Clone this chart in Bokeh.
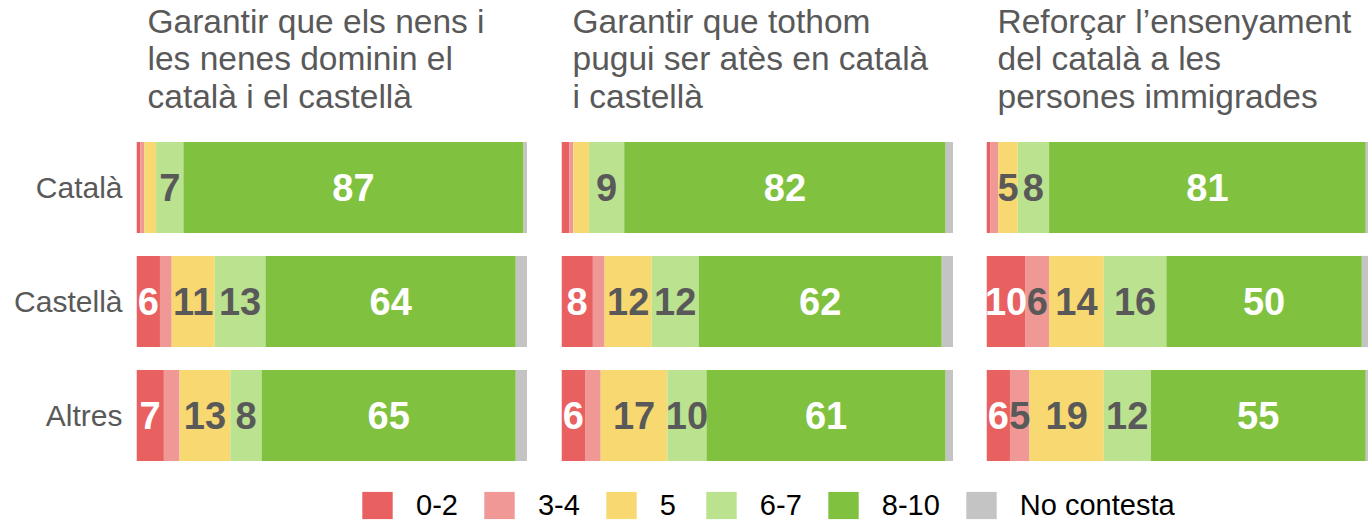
from bokeh.plotting import figure
from bokeh.models import ColumnDataSource, FactorRange, Range1d, Label, Legend, LegendItem
from bokeh.layouts import column, row
from bokeh.core.properties import value
from bokeh.embed import file_html
from bokeh.resources import INLINE

# ---------------- data ----------------
categories = ["Català", "Castellà", "Altres"]
bands = ["0-2", "3-4", "5", "6-7", "8-10", "No contesta"]

title_1 = "Garantir que els nens i\nles nenes dominin el\ncatalà i el castellà"
title_2 = "Garantir que tothom\npugui ser atès en català\ni castellà"
title_3 = "Reforçar l’ensenyament\ndel català a les\npersones immigrades"

q1_02 = [1, 6, 7]
q1_34 = [1, 3, 4]
q1_5 = [3, 11, 13]
q1_67 = [7, 13, 8]
q1_810 = [87, 64, 65]
q1_nc = [1, 3, 3]

q2_02 = [2, 8, 6]
q2_34 = [1, 3, 4]
q2_5 = [4, 12, 17]
q2_67 = [9, 12, 10]
q2_810 = [82, 62, 61]
q2_nc = [2, 3, 2]

q3_02 = [1, 10, 6]
q3_34 = [2, 6, 5]
q3_5 = [5, 14, 19]
q3_67 = [8, 16, 12]
q3_810 = [81, 50, 55]
q3_nc = [3, 4, 3]

colors = ["#E8605F", "#EF9896", "#F8D870", "#BBE38F", "#80C240", "#C4C4C4"]
label_colors = ["#FFFFFF", "#595959", "#595959", "#595959", "#FFFFFF", "#595959"]

FONT = "Liberation Sans"
GREY_TXT = "#595959"
keys = ["b0", "b1", "b2", "b3", "b4", "b5"]
FRAME_H = 342
TOP = 130
TOTAL_W = 1368


def make_panel(series, border_left, frame_w, x_end, show_axis):
    p = figure(
        width=border_left + frame_w, height=FRAME_H,
        y_range=FactorRange(factors=list(reversed(categories))),
        x_range=Range1d(0, x_end),
        output_backend="svg", toolbar_location=None,
        x_axis_location=None,
        y_axis_location="left" if show_axis else None,
        min_border_left=border_left, min_border_right=0,
        min_border_top=0, min_border_bottom=0,
    )
    p.outline_line_color = None
    p.grid.visible = False
    p.background_fill_color = None
    p.border_fill_color = None

    data = dict(cat=categories)
    for k, s in zip(keys, series):
        data[k] = s
    src = ColumnDataSource(data)
    p.hbar_stack(keys, y="cat", height=0.8, fill_color=colors, line_color=None, source=src)

    xs, ys, ts, cs = [], [], [], []
    for i, cat in enumerate(categories):
        start = 0
        for j, s in enumerate(series):
            v = s[i]
            if v >= 5:
                xs.append(start + v / 2)
                ys.append(cat)
                ts.append(str(v))
                cs.append(label_colors[j])
            start += v
    lsrc = ColumnDataSource(dict(x=xs, y=ys, t=ts, c=cs))
    p.text(x="x", y="y", text="t", text_color="c", source=lsrc,
           text_font=value(FONT), text_font_style="bold", text_font_size="38px",
           text_align="center", text_baseline="middle")

    if show_axis:
        ax = p.yaxis[0]
        ax.axis_line_color = None
        ax.major_tick_line_color = None
        ax.minor_tick_line_color = None
        ax.major_label_text_font = FONT
        ax.major_label_text_font_size = "30px"
        ax.major_label_text_color = GREY_TXT
        ax.major_label_standoff = 8
    return p


# title strip
pt = figure(width=TOTAL_W, height=TOP, output_backend="svg", toolbar_location=None,
            x_axis_location=None, y_axis_location=None, min_border=0,
            x_range=Range1d(0, 1), y_range=Range1d(0, 1))
pt.outline_line_color = None
pt.grid.visible = False
for tx, xpos in zip([title_1, title_2, title_3], [147, 572, 997]):
    pt.add_layout(Label(x=xpos, y=TOP - 2, x_units="screen", y_units="screen",
                        text=tx, text_align="left", text_baseline="top",
                        text_font=FONT, text_font_size="33.5px", text_font_style="normal",
                        text_color=GREY_TXT, text_line_height=1.02))

p1 = make_panel([q1_02, q1_34, q1_5, q1_67, q1_810, q1_nc], 136, 391, 100, True)
p2 = make_panel([q2_02, q2_34, q2_5, q2_67, q2_810, q2_nc], 34, 392, 100, False)
p3 = make_panel([q3_02, q3_34, q3_5, q3_67, q3_810, q3_nc], 33, 382, 97.7, False)

# legend strip
pl = figure(width=TOTAL_W, height=50, output_backend="svg", toolbar_location=None,
            x_axis_location=None, y_axis_location=None, min_border=0,
            x_range=Range1d(0, 1), y_range=Range1d(0, 1))
pl.outline_line_color = None
pl.grid.visible = False
items = []
for b, c in zip(bands, colors):
    r = pl.hbar(y=[-10], right=[1], height=0.5, fill_color=c, line_color=None)
    items.append(LegendItem(label=b, renderers=[r]))
leg = Legend(items=items, orientation="horizontal", location=(358, 0),
             glyph_width=38, glyph_height=34, label_standoff=20, spacing=22,
             padding=0, margin=0, border_line_color=None, background_fill_alpha=0,
             label_text_font=FONT, label_text_font_size="29px", label_text_color="#000000")
pl.add_layout(leg)

layout = column(pt, row(p1, p2, p3), pl)
open("out.html", "w").write(file_html(layout, INLINE))
